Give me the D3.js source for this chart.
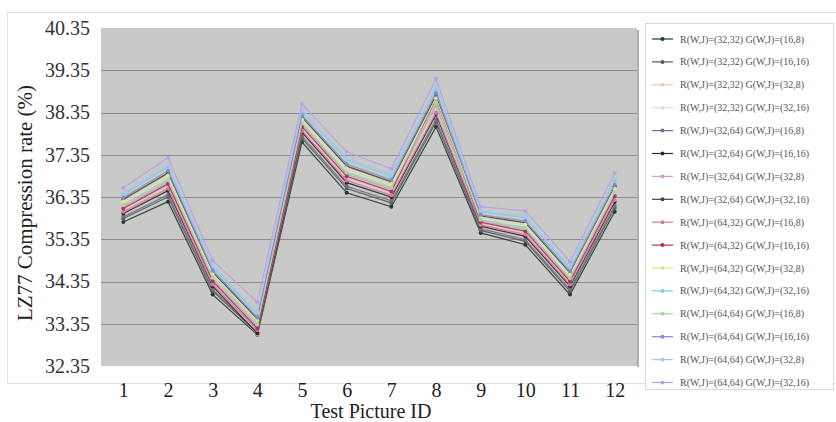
<!DOCTYPE html>
<html>
<head>
<meta charset="utf-8">
<script src="https://cdn.jsdelivr.net/npm/d3@7"></script>
<style>
  body { margin: 0; background: #fff; }
  text { font-family: "Liberation Serif", "DejaVu Serif", serif; }
</style>
</head>
<body>
<div id="chart"></div>
<script>
// test picture ids
var pictures = [1, 2, 3, 4, 5, 6, 7, 8, 9, 10, 11, 12];

var yTicks = [32.35, 33.35, 34.35, 35.35, 36.35, 37.35, 38.35, 39.35, 40.35];

var seriesNames = [
    "R(W,J)=(32,32) G(W,J)=(16,8)",
    "R(W,J)=(32,32) G(W,J)=(16,16)",
    "R(W,J)=(32,32) G(W,J)=(32,8)",
    "R(W,J)=(32,32) G(W,J)=(32,16)",
    "R(W,J)=(32,64) G(W,J)=(16,8)",
    "R(W,J)=(32,64) G(W,J)=(16,16)",
    "R(W,J)=(32,64) G(W,J)=(32,8)",
    "R(W,J)=(32,64) G(W,J)=(32,16)",
    "R(W,J)=(64,32) G(W,J)=(16,8)",
    "R(W,J)=(64,32) G(W,J)=(16,16)",
    "R(W,J)=(64,32) G(W,J)=(32,8)",
    "R(W,J)=(64,32) G(W,J)=(32,16)",
    "R(W,J)=(64,64) G(W,J)=(16,8)",
    "R(W,J)=(64,64) G(W,J)=(16,16)",
    "R(W,J)=(64,64) G(W,J)=(32,8)",
    "R(W,J)=(64,64) G(W,J)=(32,16)"
];

// compression rate (%) per picture, one row per series
var s1 = [35.76, 36.24, 34.04, 33.09, 37.65, 36.45, 36.12, 38.01, 35.50, 35.22, 34.04, 36.00];
var s2 = [35.84, 36.35, 34.12, 33.14, 37.74, 36.55, 36.21, 38.12, 35.56, 35.30, 34.12, 36.09];
var s3 = [36.04, 36.60, 34.32, 33.10, 37.97, 36.79, 36.44, 38.41, 35.72, 35.50, 34.31, 36.32];
var s4 = [36.21, 36.81, 34.49, 33.14, 38.15, 36.98, 36.62, 38.64, 35.84, 35.66, 34.47, 36.51];
var s5 = [35.88, 36.40, 34.16, 33.15, 37.79, 36.60, 36.26, 38.18, 35.60, 35.34, 34.16, 36.14];
var s6 = [35.96, 36.50, 34.24, 33.12, 37.88, 36.69, 36.35, 38.30, 35.66, 35.42, 34.24, 36.23];
var s7 = [36.12, 36.71, 34.40, 33.30, 38.06, 36.89, 36.53, 38.52, 35.78, 35.58, 34.39, 36.41];
var s8 = [36.29, 36.92, 34.57, 33.46, 38.24, 37.08, 36.71, 38.75, 35.90, 35.74, 34.55, 36.60];
var s9 = [36.00, 36.55, 34.28, 33.20, 37.92, 36.74, 36.39, 38.35, 35.69, 35.46, 34.28, 36.28];
var s10 = [36.08, 36.66, 34.36, 33.24, 38.01, 36.84, 36.48, 38.67, 35.75, 35.54, 34.35, 36.37];
var s11 = [36.25, 36.86, 34.53, 33.42, 38.19, 37.03, 36.66, 38.69, 35.87, 35.70, 34.51, 36.55];
var s12 = [36.41, 37.07, 34.69, 33.58, 38.37, 37.23, 36.84, 38.92, 36.00, 35.86, 34.66, 36.74];
var s13 = [36.16, 36.76, 34.44, 33.34, 38.10, 36.93, 36.57, 38.58, 35.81, 35.62, 34.43, 36.46];
var s14 = [36.33, 36.97, 34.61, 33.50, 38.28, 37.13, 36.75, 38.81, 35.93, 35.78, 34.59, 36.64];
var s15 = [36.45, 37.12, 34.73, 33.62, 38.42, 37.27, 36.89, 38.98, 36.03, 35.90, 34.70, 36.78];
var s16 = [36.57, 37.28, 34.85, 33.86, 38.55, 37.42, 37.02, 39.15, 36.12, 36.02, 34.82, 36.92];

var allSeries = [s1, s2, s3, s4, s5, s6, s7, s8, s9, s10, s11, s12, s13, s14, s15, s16];

var colors = ["#1f3b2a", "#5a5a5a", "#e8cfa8", "#cfe6ef", "#7a6a8a", "#2a2a2a", "#c8a0c8", "#404040",
    "#d878a8", "#b03060", "#e6e28a", "#78d4d4", "#a0d8a0", "#8484dc", "#a8c8f0", "#b8a0e8"];

var width = 836,
    height = 422;

var plot = {left: 101, top: 28, right: 637, bottom: 366};

var svg = d3.select("#chart")
    .append("svg")
    .attr("width", width)
    .attr("height", height);

// outer chart border
svg.append("rect")
    .attr("x", 7.5).attr("y", 12.5)
    .attr("width", 840).attr("height", 371)
    .attr("fill", "none")
    .attr("stroke", "#e2e2e2");

var x = d3.scalePoint()
    .domain(pictures)
    .range([plot.left, plot.right])
    .padding(0.5);

var y = d3.scaleLinear()
    .domain([32.35, 40.35])
    .range([plot.bottom, plot.top]);

// plot background
svg.append("rect")
    .attr("x", plot.left).attr("y", plot.top)
    .attr("width", plot.right - plot.left)
    .attr("height", plot.bottom - plot.top)
    .attr("fill", "#c9c9c7");

svg.append("line")
    .attr("x1", plot.right + 1).attr("x2", plot.right + 1)
    .attr("y1", plot.top + 2).attr("y2", plot.bottom + 1)
    .attr("stroke", "#b0b0b0").attr("stroke-width", 2);

// grid lines
svg.append("g")
    .selectAll("line")
    .data(yTicks.slice(1, -1))
    .enter().append("line")
    .attr("x1", plot.left).attr("x2", plot.right)
    .attr("y1", function (d) { return Math.round(y(d)) + 0.5; })
    .attr("y2", function (d) { return Math.round(y(d)) + 0.5; })
    .attr("stroke", "#8c8c8c")
    .attr("stroke-width", 1);

// y axis labels
var yAxis = d3.axisLeft(y)
    .tickValues(yTicks)
    .tickFormat(d3.format(".2f"))
    .tickSize(0)
    .tickPadding(11);

svg.append("g")
    .attr("transform", "translate(" + plot.left + ",0)")
    .call(yAxis)
    .call(function (g) { g.select(".domain").remove(); })
    .selectAll("text")
    .attr("font-family", "Liberation Serif")
    .attr("font-size", 20)
    .attr("fill", "#333");

// x axis labels
var xAxis = d3.axisBottom(x)
    .tickSize(0)
    .tickPadding(17);

svg.append("g")
    .attr("transform", "translate(0," + plot.bottom + ")")
    .call(xAxis)
    .call(function (g) { g.select(".domain").remove(); })
    .selectAll("text")
    .attr("font-family", "Liberation Serif")
    .attr("font-size", 20)
    .attr("fill", "#222");

svg.append("text")
    .attr("x", 371)
    .attr("y", 418)
    .attr("text-anchor", "middle")
    .attr("font-size", 20)
    .attr("fill", "#222")
    .text("Test Picture ID");

svg.append("text")
    .attr("transform", "translate(32,203) rotate(-90)")
    .attr("text-anchor", "middle")
    .attr("font-size", 21)
    .attr("fill", "#222")
    .text("LZ77 Compression rate (%)");

// lines
var line = d3.line()
    .x(function (d, i) { return x(pictures[i]); })
    .y(function (d) { return y(d); });

var series = svg.append("g")
    .selectAll("g")
    .data(allSeries)
    .enter().append("g");

series.append("path")
    .attr("d", line)
    .attr("fill", "none")
    .attr("stroke", function (d, i) { return colors[i]; })
    .attr("stroke-width", 1.2)
    .attr("opacity", 0.9);

series.selectAll("circle")
    .data(function (d, i) { return d.map(function (v) { return {v: v, c: colors[i]}; }); })
    .enter().append("circle")
    .attr("cx", function (d, j) { return x(pictures[j]); })
    .attr("cy", function (d) { return y(d.v); })
    .attr("r", 2)
    .attr("fill", function (d) { return d.c; });

// legend
var legend = svg.append("g");

legend.append("rect")
    .attr("x", 645.5).attr("y", 23.5)
    .attr("width", 188).attr("height", 366)
    .attr("fill", "#fff")
    .attr("stroke", "#dadada");

var item = legend.selectAll("g")
    .data(seriesNames)
    .enter().append("g")
    .attr("transform", function (d, i) { return "translate(0," + (39 + i * 22.9) + ")"; });

item.append("line")
    .attr("x1", 652).attr("x2", 673)
    .attr("y1", 0).attr("y2", 0)
    .attr("stroke", function (d, i) { return colors[i]; })
    .attr("stroke-width", 1.2);

item.append("circle")
    .attr("cx", 662.5).attr("cy", 0)
    .attr("r", 2)
    .attr("fill", function (d, i) { return colors[i]; });

item.append("text")
    .attr("x", 680)
    .attr("y", 3.5)
    .attr("font-size", 10)
    .attr("fill", "#555")
    .text(function (d) { return d; });
</script>
</body>
</html>
